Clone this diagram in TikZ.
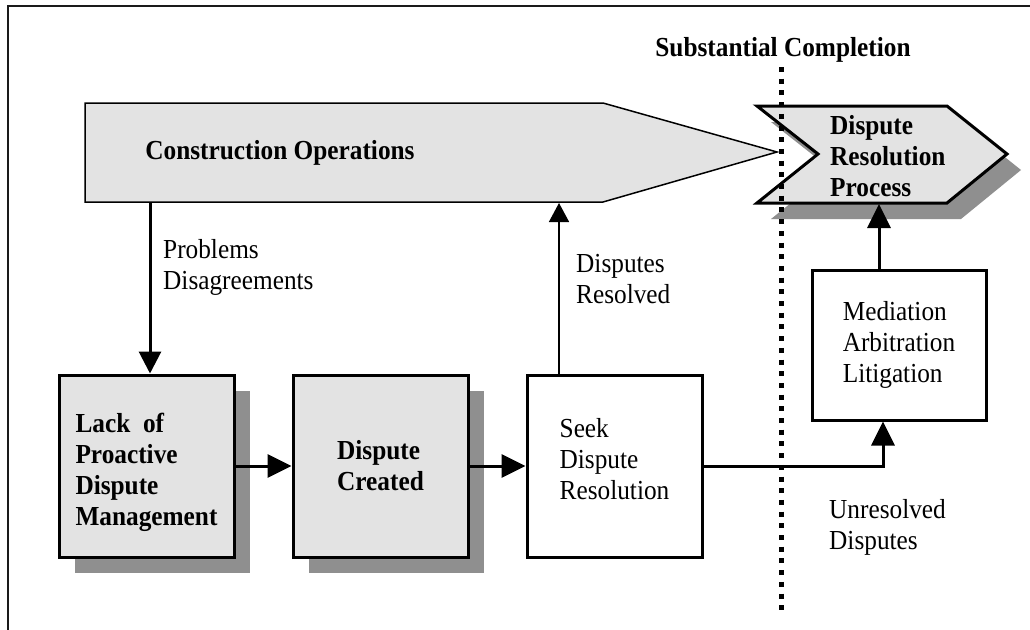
\documentclass[tikz,border=0pt]{standalone}
\usepackage{fontspec}
\setmainfont{Liberation Serif}[FakeStretch=0.92]
\usetikzlibrary{arrows.meta,shadows}
\definecolor{boxfill}{HTML}{E3E3E3}
\definecolor{shadowgray}{HTML}{8F8F8F}
\definecolor{framecol}{HTML}{1A1A1A}
\begin{document}
\begin{tikzpicture}[x=1pt,y=-1pt,
  txt/.style={font=\fontsize{27.5}{31}\selectfont, align=left, inner sep=0pt},
  btxt/.style={txt, font=\fontsize{27.5}{31}\selectfont\bfseries},
  boxshape/.style={draw, line width=3pt, minimum width=175pt, minimum height=182pt, inner sep=0pt, align=left},
  greybox/.style={boxshape, fill=boxfill, font=\fontsize{27.5}{31}\selectfont\bfseries,
     drop shadow={shadow xshift=16pt, shadow yshift=-16pt, fill=shadowgray, opacity=1}},
  whitebox/.style={boxshape, fill=white, font=\fontsize{27.5}{31}\selectfont},
  thickarrow/.style={line width=3pt, -{Triangle[length=24pt,width=23pt]}},
  thinarrow/.style={line width=1.5pt, -{Triangle[length=19pt,width=20pt]}}
]
\useasboundingbox (0,0) rectangle (1030,629);
\fill[white] (0,0) rectangle (1030,629);
% frame
\draw[line width=2pt, framecol] (8,640) -- (8,6) -- (1040,6);

% construction operations arrow shape
\draw[line width=1.5pt, fill=boxfill, line join=miter]
  (85,103) -- (603,103) -- (777,152) -- (603,202) -- (85,202) -- cycle;
\node[btxt] (co) at (280,153) {Construction Operations};
\coordinate (co-p) at (150,202);
\coordinate (co-r) at (559,203);

% dispute resolution process chevron with shadow
\fill[shadowgray] (771,122) -- (961,122) -- (1021,170) -- (961,219) -- (771,219) -- (832,170) -- cycle;
\draw[line width=3pt, fill=boxfill, line join=miter]
  (757,106) -- (947,106) -- (1007,154) -- (947,203) -- (757,203) -- (818,154) -- cycle;
\node[btxt, anchor=west] (drp) at (830,156) {Dispute\\Resolution\\Process};
\coordinate (dr-bot) at (879,204);

% boxes
\node[greybox] (b1) at (146.5,466) {\rule{0pt}{32pt}Lack~ of\\Proactive\\Dispute\\Management};
\node[greybox] (b2) at (380.5,466) {Dispute\\Created};
\node[whitebox] (b3) at (614.5,466) {Seek\\Dispute\\Resolution\\[-17pt]};
\node[whitebox, minimum width=174pt, minimum height=150pt] (b4) at (899,345) {Mediation\\Arbitration\\Litigation};

% connectors
\draw[thickarrow, {Triangle[length=22pt,width=22pt]}-] (b1.north -| co-p) -- (co-p);
\draw[thickarrow] (b1.east) -- (b2.west);
\draw[thickarrow] (b2.east) -- (b3.west);
\draw[thinarrow] (b3.north -| co-r) -- (co-r);
\draw[thickarrow] (b3.east) -| ([xshift=-16pt]b4.south);
\draw[thickarrow] (b4.north -| dr-bot) -- (dr-bot);

% labels
\node[txt, anchor=west] (lp) at (163,267) {Problems\\Disagreements};
\node[txt, anchor=west] (lr) at (576,279) {Disputes\\Resolved};
\node[txt, anchor=west] (lu) at (829,527) {Unresolved\\Disputes};
\node[btxt] (sc) at (783,50) {Substantial Completion};

% substantial completion line
\coordinate (sc-top) at (781,67);
\coordinate (sc-bot) at (781,615);
\draw[line width=5pt, dash pattern=on 5pt off 6.7pt] (sc-top) -- (sc-bot);
\end{tikzpicture}
\end{document}
